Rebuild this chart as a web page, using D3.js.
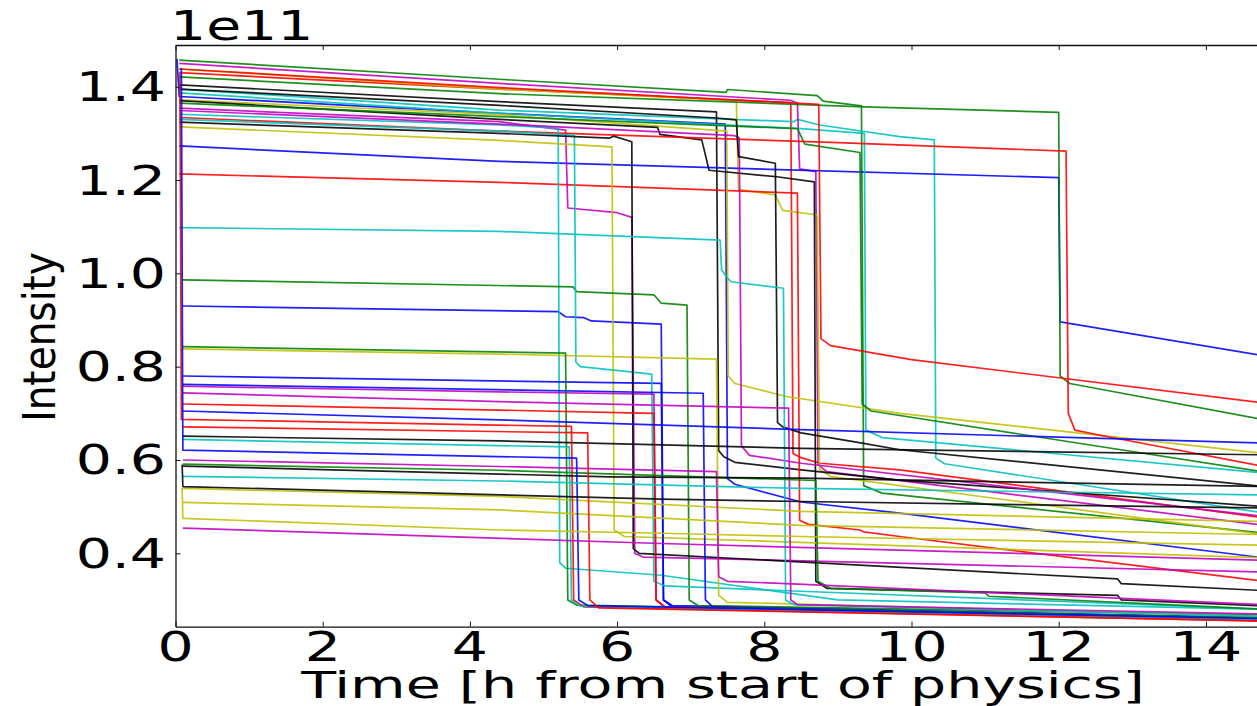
<!DOCTYPE html>
<html>
<head>
<meta charset="utf-8">
<script src="https://cdn.jsdelivr.net/npm/d3@7"></script>
<style>
  html, body { margin: 0; padding: 0; background: #fff; overflow: hidden; }
  text { font-family: "DejaVu Sans", "Bitstream Vera Sans", sans-serif; fill: #000; }
</style>
</head>
<body>
<svg id="chart" width="1257" height="706"></svg>
<script>
// Axis ticks (time in hours, intensity in units of 1e11)
const timeTicks = [0, 2, 4, 6, 8, 10, 12, 14];
const intensityTicks = [0.4, 0.6, 0.8, 1.0, 1.2, 1.4];

// Each run: [time (h), intensity (1e11)] breakpoints
const blue = [
  [[0.02,1.46],[0.05,1.379],[4.4,1.343],[7.47,1.32],[7.5,0.56],[7.6,0.548],[8.5,0.51],[9.84,0.486],[14.8,0.39]],
  [[0.05,1.273],[4.4,1.24],[12.0,1.205],[12.02,0.896],[14.8,0.823]],
  [[0.1,0.930],[5.2,0.918],[5.3,0.907],[5.55,0.905],[5.65,0.898],[6.6,0.891],[6.63,0.30],[6.75,0.288],[14.8,0.262]],
  [[0.1,0.780],[6.6,0.764],[6.63,0.30],[6.75,0.285],[14.8,0.26]],
  [[0.1,0.762],[7.17,0.743],[7.2,0.30],[7.3,0.285],[14.8,0.258]],
  [[0.1,0.705],[4.4,0.686],[8.5,0.665],[14.8,0.636]],
  [[0.08,1.44],[0.1,0.621],[5.45,0.604],[5.48,0.30],[5.6,0.288],[14.8,0.26]]
];
const green = [
  [[0.05,1.457],[4.4,1.416],[7.48,1.388],[7.5,1.394],[8.72,1.381],[8.8,1.369],[9.32,1.359],[9.35,0.545],[9.6,0.529],[14.8,0.443]],
  [[0.05,1.421],[4.4,1.385],[9.35,1.357],[12.0,1.345],[12.02,0.78],[12.15,0.764],[14.8,0.686]],
  [[0.05,1.365],[4.4,1.336],[8.45,1.31],[8.55,1.277],[9.3,1.259],[9.33,0.72],[9.45,0.705],[14.8,0.574]],
  [[0.1,0.986],[5.4,0.971],[5.45,0.961],[6.5,0.954],[6.6,0.936],[6.95,0.932],[6.98,0.30],[7.1,0.288],[14.8,0.268]],
  [[0.1,0.843],[5.3,0.829],[5.33,0.30],[5.45,0.289],[14.8,0.262]],
  [[0.1,0.591],[4.4,0.578],[8.7,0.556],[8.73,0.34],[8.9,0.325],[11.0,0.315],[11.05,0.308],[14.8,0.28]]
];
const red = [
  [[0.05,1.430],[4.4,1.395],[8.36,1.366],[8.39,0.614],[8.5,0.605],[8.76,0.593],[9.84,0.579],[14.8,0.476]],
  [[0.05,1.213],[4.4,1.195],[8.45,1.172],[8.48,0.471],[8.6,0.462],[9.3,0.45],[9.35,0.446],[9.84,0.436],[14.8,0.34]],
  [[0.05,1.334],[4.4,1.305],[9.0,1.28],[12.1,1.262],[12.13,0.70],[12.22,0.664],[12.6,0.652],[14.8,0.586]],
  [[0.05,1.438],[4.4,1.398],[8.74,1.362],[8.77,0.86],[8.9,0.845],[10.0,0.815],[14.8,0.722]],
  [[0.1,0.720],[4.4,0.707],[6.5,0.70],[6.53,0.30],[6.65,0.285],[14.8,0.258]],
  [[0.06,1.43],[0.08,0.687],[5.38,0.672],[5.41,0.30],[5.55,0.285],[14.8,0.255]],
  [[0.1,0.671],[5.6,0.658],[5.63,0.30],[5.75,0.283],[14.8,0.255]]
];
const cyan = [
  [[0.05,1.395],[4.4,1.35],[8.4,1.325],[8.45,1.33],[8.75,1.318],[9.84,1.293],[10.31,1.286],[10.33,0.604],[10.45,0.592],[14.8,0.486]],
  [[0.05,1.387],[4.4,1.343],[8.5,1.31],[9.36,1.30],[9.38,0.664],[9.6,0.648],[14.8,0.572]],
  [[0.05,1.341],[4.4,1.318],[5.2,1.311],[5.22,0.38],[5.3,0.368],[6.6,0.353],[9.0,0.30],[14.8,0.28]],
  [[0.05,1.33],[4.4,1.305],[5.42,1.296],[5.44,0.81],[5.5,0.80],[6.47,0.784],[6.5,0.34],[6.65,0.33],[14.8,0.28]],
  [[0.05,1.098],[4.4,1.09],[7.4,1.071],[7.42,1.007],[7.5,0.99],[7.55,0.982],[8.26,0.968],[8.29,0.30],[8.4,0.29],[14.8,0.265]],
  [[0.1,0.644],[5.35,0.628],[5.38,0.30],[5.5,0.287],[14.8,0.258]],
  [[0.1,0.565],[4.4,0.555],[8.5,0.539],[14.8,0.525]]
];
const magenta = [
  [[0.05,1.450],[4.4,1.407],[8.35,1.371],[8.45,1.365],[8.48,1.224],[8.7,1.218],[8.73,0.59],[8.85,0.575],[14.8,0.46]],
  [[0.05,1.354],[4.4,1.325],[5.3,1.307],[5.33,1.14],[6.0,1.13],[6.2,1.12],[6.24,0.40],[6.35,0.392],[14.8,0.36]],
  [[0.05,1.349],[4.4,1.32],[7.6,1.295],[7.66,1.29],[7.69,0.63],[7.8,0.61],[8.5,0.593],[14.8,0.479]],
  [[0.1,0.758],[4.4,0.746],[6.5,0.741],[6.53,0.30],[6.65,0.285],[14.8,0.26]],
  [[0.1,0.744],[4.4,0.725],[8.33,0.711],[8.36,0.30],[8.45,0.29],[14.8,0.27]],
  [[0.1,0.600],[4.4,0.586],[7.35,0.575],[7.38,0.35],[7.5,0.34],[8.3,0.335],[14.8,0.29]],
  [[0.1,0.454],[6.6,0.421],[14.8,0.385]]
];
const yellow = [
  [[0.05,1.438],[4.4,1.395],[7.62,1.37],[7.65,1.18],[8.15,1.168],[8.25,1.135],[8.72,1.125],[8.75,0.58],[8.9,0.565],[14.8,0.44]],
  [[0.05,1.372],[4.4,1.34],[7.49,1.305],[7.51,0.78],[7.6,0.764],[8.3,0.736],[9.84,0.70],[14.8,0.614]],
  [[0.05,1.314],[4.4,1.285],[5.93,1.271],[5.96,0.45],[6.1,0.436],[14.8,0.39]],
  [[0.1,0.838],[4.4,0.827],[7.35,0.816],[7.38,0.31],[7.5,0.295],[14.8,0.265]],
  [[0.1,0.539],[4.4,0.522],[8.5,0.49],[14.8,0.468]],
  [[0.1,0.509],[4.4,0.493],[8.5,0.46],[14.8,0.44]],
  [[0.09,0.54],[0.1,0.475],[4.4,0.45],[6.6,0.443],[8.5,0.436],[14.8,0.417]]
];
const black = [
  [[0.05,1.404],[4.4,1.368],[7.35,1.346],[7.38,0.62],[7.45,0.607],[7.6,0.595],[8.5,0.579],[9.84,0.557],[14.8,0.50]],
  [[0.05,1.37],[4.4,1.33],[6.55,1.313],[6.58,1.298],[7.15,1.286],[7.25,1.221],[8.17,1.207],[8.68,1.196],[8.7,0.34],[8.85,0.325],[12.8,0.31],[12.85,0.30],[14.8,0.287]],
  [[0.05,1.395],[4.4,1.36],[7.35,1.333],[7.62,1.329],[7.65,1.25],[8.15,1.236],[8.18,0.68],[8.25,0.671],[8.5,0.658],[9.33,0.636],[9.84,0.622],[14.8,0.543]],
  [[0.05,1.324],[4.4,1.30],[5.9,1.29],[5.95,1.294],[6.2,1.282],[6.22,0.41],[6.3,0.40],[12.8,0.345],[12.85,0.335],[14.8,0.32]],
  [[0.1,0.651],[4.4,0.641],[8.5,0.625],[14.8,0.611]],
  [[0.1,0.587],[5.9,0.564],[8.5,0.561],[14.8,0.543]],
  [[0.09,0.59],[0.1,0.543],[6.6,0.516],[8.5,0.511],[14.8,0.497]]
];

const colourSets = [
  [blue, '#0000ff'], [green, '#008000'], [red, '#ff0000'], [cyan, '#00bfbf'],
  [magenta, '#bf00bf'], [yellow, '#bfbf00'], [black, '#000000']
];

const W = 1257, H = 706;
const x = d3.scaleLinear().domain([0, 15]).range([175.5, 1279.5]);
const y = d3.scaleLinear().domain([0.2427, 1.4894]).range([626.7, 45]);

const svg = d3.select('#chart');
svg.append('rect').attr('width', W).attr('height', H).attr('fill', '#fff');

svg.append('defs').append('clipPath').attr('id', 'plot-clip')
  .append('rect')
  .attr('x', x(0)).attr('y', y(1.4894))
  .attr('width', x(15) - x(0)).attr('height', y(0.2427) - y(1.4894));

// Interleave runs in the b, g, r, c, m, y, k cycle order
const runs = [];
const maxLen = d3.max(colourSets, c => c[0].length);
for (let i = 0; i < maxLen; i++) {
  colourSets.forEach(([set, col]) => { if (set[i]) runs.push({ pts: set[i], col }); });
}

const line = d3.line().x(d => x(d[0])).y(d => y(d[1]));
svg.append('g').attr('clip-path', 'url(#plot-clip)')
  .selectAll('path').data(runs).join('path')
  .attr('d', d => line(d.pts))
  .attr('fill', 'none')
  .attr('stroke', d => d.col)
  .attr('stroke-width', 1.7)
  .attr('stroke-linejoin', 'round')
  .attr('stroke-opacity', 0.88);

// Frame and inward ticks
const frame = svg.append('g');
const axisBottom = d3.axisBottom(x).tickValues(timeTicks).tickSizeInner(-5).tickSizeOuter(0).tickFormat('');
const axisTop = d3.axisTop(x).tickValues(timeTicks).tickSizeInner(-5).tickSizeOuter(0).tickFormat('');
const axisLeft = d3.axisLeft(y).tickValues(intensityTicks).tickSizeInner(-5).tickSizeOuter(0).tickFormat('');
frame.append('g').attr('transform', `translate(0,${y(0.2427)})`).call(axisBottom);
frame.append('g').attr('transform', `translate(0,${y(1.4894)})`).call(axisTop);
frame.append('g').attr('transform', `translate(${x(0)},0)`).call(axisLeft);
frame.selectAll('.domain').attr('stroke', '#111').attr('stroke-width', 1.3);
frame.selectAll('.tick line').attr('stroke', '#111').attr('stroke-width', 1);

// Labels (wide-set type)
const sx = 1.42;
const fs = 40;
svg.append('g').selectAll('text').data(timeTicks).join('text')
  .attr('transform', d => `translate(${x(d)},661) scale(${sx},1)`)
  .attr('text-anchor', 'middle')
  .attr('font-size', fs)
  .text(d => d);

svg.append('g').selectAll('text').data(intensityTicks).join('text')
  .attr('transform', d => `translate(166,${y(d) + 14.5}) scale(${sx},1)`)
  .attr('text-anchor', 'end')
  .attr('font-size', fs)
  .text(d => d.toFixed(1));

svg.append('text')
  .attr('transform', `translate(170,40) scale(${sx},1)`)
  .attr('font-size', fs)
  .text('1e11');

svg.append('text')
  .attr('transform', `translate(723,698) scale(1.5,1)`)
  .attr('text-anchor', 'middle')
  .attr('font-size', 38)
  .text('Time [h from start of physics]');

svg.append('text')
  .attr('transform', `translate(55,337) scale(1.14,1) rotate(-90)`)
  .attr('text-anchor', 'middle')
  .attr('font-size', 39)
  .text('Intensity');
</script>
</body>
</html>
